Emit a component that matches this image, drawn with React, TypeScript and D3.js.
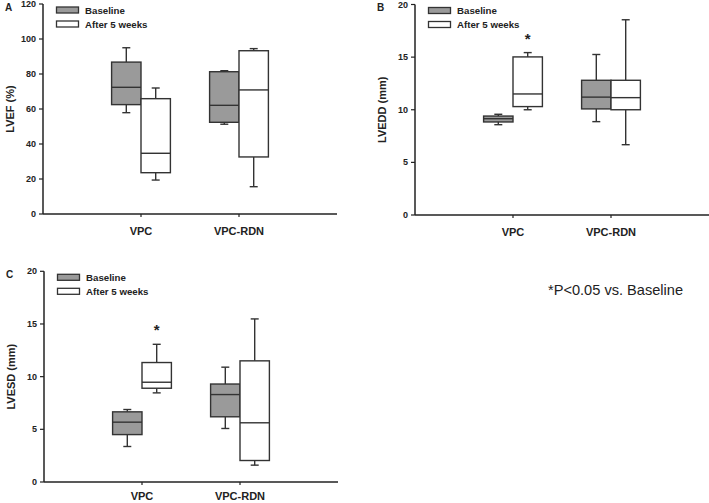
import React from "react";
import * as d3 from "d3";

const categories = ["VPC", "VPC-RDN"];
const seriesNames = ["Baseline", "After 5 weeks"];

// [min, q1, median, q3, max]
const lvefBaseline = [[57.9, 62.5, 72.4, 86.8, 95], [51.3, 52.4, 62.1, 81.3, 81.9]];
const lvefAfter = [[19.4, 23.6, 34.7, 65.9, 72], [15.6, 32.6, 70.9, 93.3, 94.5]];
const lveddBaseline = [[8.58, 8.84, 9.15, 9.4, 9.57], [8.87, 10.08, 11.2, 12.8, 15.25]];
const lveddAfter = [[10.0, 10.3, 11.5, 15.02, 15.43], [6.68, 10.0, 11.15, 12.8, 18.55]];
const lvesdBaseline = [[3.37, 4.5, 5.68, 6.66, 6.88], [5.08, 6.19, 8.3, 9.3, 10.9]];
const lvesdAfter = [[8.46, 8.9, 9.47, 11.34, 13.07], [1.6, 2.04, 5.62, 11.5, 15.48]];

const ticksA = [0, 20, 40, 60, 80, 100, 120];
const ticksBC = [0, 5, 10, 15, 20];

const panels = [
  { letter: "A", label: "LVEF (%)", base: lvefBaseline, after: lvefAfter, ticks: ticksA, max: 120, x0: 43, yTop: 4, yBot: 214, star: null as number | null, xlab: 17 },
  { letter: "B", label: "LVEDD (mm)", base: lveddBaseline, after: lveddAfter, ticks: ticksBC, max: 20, x0: 415, yTop: 4.5, yBot: 215, star: 0, xlab: 17 },
  { letter: "C", label: "LVESD (mm)", base: lvesdBaseline, after: lvesdAfter, ticks: ticksBC, max: 20, x0: 44, yTop: 271.3, yBot: 482, star: 0, xlab: 14 },
];

const FONT = "Liberation Sans, Arial, sans-serif";
const INK = "#222";
const GRAY = "#9a9a9a";

function Box({ d, xl, xr, y, fill }: { d: number[]; xl: number; xr: number; y: d3.ScaleLinear<number, number>; fill: string }) {
  const xc = (xl + xr) / 2;
  const cap = 4;
  return (
    <g stroke="#333" strokeWidth={1.4}>
      <line x1={xc} x2={xc} y1={y(d[3])} y2={y(d[4])} />
      <line x1={xc} x2={xc} y1={y(d[1])} y2={y(d[0])} />
      <line x1={xc - cap} x2={xc + cap} y1={y(d[4])} y2={y(d[4])} />
      <line x1={xc - cap} x2={xc + cap} y1={y(d[0])} y2={y(d[0])} />
      <rect x={xl} y={y(d[3])} width={xr - xl} height={y(d[1]) - y(d[3])} fill={fill} />
      <line x1={xl} x2={xr} y1={y(d[2])} y2={y(d[2])} />
    </g>
  );
}

function Panel({ p }: { p: (typeof panels)[number] }) {
  const y = d3.scaleLinear().domain([0, p.max]).range([p.yBot, p.yTop]);
  const x = d3.scaleLinear().domain([0, 3]).range([p.x0, p.x0 + 294]);
  const hw = 0.3;
  return (
    <g fontFamily={FONT} fill={INK}>
      <line x1={p.x0} x2={p.x0} y1={p.yTop} y2={p.yBot} stroke={INK} strokeWidth={1.5} />
      <line x1={p.x0} x2={x(3)} y1={p.yBot} y2={p.yBot} stroke={INK} strokeWidth={1.5} />
      {p.ticks.map((t) => (
        <g key={t}>
          <line x1={p.x0 - 4} x2={p.x0} y1={y(t)} y2={y(t)} stroke={INK} strokeWidth={1.2} />
          <text x={p.x0 - 7} y={y(t)} textAnchor="end" dominantBaseline="central" fontSize={9} fontWeight="bold">
            {t}
          </text>
        </g>
      ))}
      {categories.map((c, i) => (
        <g key={c}>
          <line x1={x(i + 1)} x2={x(i + 1)} y1={p.yBot} y2={p.yBot + 3} stroke={INK} strokeWidth={1.2} />
          <text x={x(i + 1)} y={p.yBot + p.xlab} textAnchor="middle" dominantBaseline="central" fontSize={11} fontWeight="bold">
            {c}
          </text>
        </g>
      ))}
      <text
        transform={`translate(${p.x0 - 33},${(p.yTop + p.yBot) / 2}) rotate(-90)`}
        textAnchor="middle"
        dominantBaseline="central"
        fontSize={11}
        fontWeight="bold"
      >
        {p.label}
      </text>
      <text x={p.x0 - 38} y={p.yTop + 3} dominantBaseline="central" fontSize={10} fontWeight="bold">
        {p.letter}
      </text>
      {categories.map((c, i) => (
        <g key={c}>
          <Box d={p.base[i]} xl={x(i + 1 - hw)} xr={x(i + 1)} y={y} fill={GRAY} />
          <Box d={p.after[i]} xl={x(i + 1)} xr={x(i + 1 + hw)} y={y} fill="#fff" />
        </g>
      ))}
      {p.star !== null && (
        <text
          x={x(p.star + 1 + hw / 2)}
          y={y(p.after[p.star][4]) - 9}
          textAnchor="middle"
          fontSize={15}
          fontWeight="bold"
        >
          *
        </text>
      )}
      {seriesNames.map((s, i) => (
        <g key={s}>
          <rect x={p.x0 + 13.5} y={p.yTop + 3 + i * 14} width={22} height={6} fill={i === 0 ? GRAY : "#fff"} stroke="#333" strokeWidth={1.3} />
          <text x={p.x0 + 42} y={p.yTop + 6 + i * 14} dominantBaseline="central" fontSize={9.7} fontWeight="bold">
            {s}
          </text>
        </g>
      ))}
    </g>
  );
}

export default function App() {
  return (
    <svg width={709} height={503} style={{ position: "absolute", left: 0, top: 0, background: "#fff" }}>
      <rect width={709} height={503} fill="#fff" />
      {panels.map((p) => (
        <Panel key={p.letter} p={p} />
      ))}
      <text x={548} y={290} dominantBaseline="central" fontFamily={FONT} fontSize={14.6} fill={INK}>
        *P&lt;0.05 vs. Baseline
      </text>
    </svg>
  );
}
